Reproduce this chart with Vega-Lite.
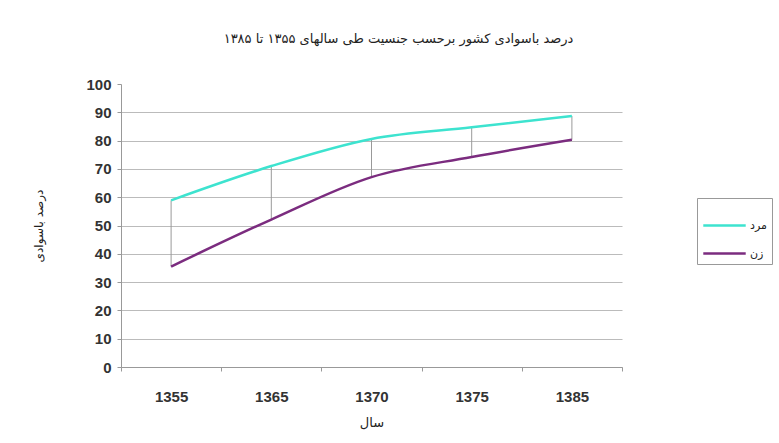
{
  "$schema": "https://vega.github.io/schema/vega-lite/v6.json",
  "width": 501,
  "height": 283,
  "autosize": {"type": "none"},
  "padding": {"left": 121, "top": 84, "right": 158, "bottom": 76},
  "background": "white",
  "config": {
    "view": {"stroke": null},
    "font": "DejaVu Sans",
    "axisY": {
      "titleFont": "DejaVu Sans",
      "titleFontSize": 12,
      "titleFontWeight": "normal",
      "titleColor": "#222",
      "titlePadding": 40,
      "values": [0, 10, 20, 30, 40, 50, 60, 70, 80, 90, 100],
      "labelOverlap": false,
      "labelFont": "Liberation Sans",
      "labelFontSize": 15,
      "labelFontWeight": "bold",
      "labelColor": "#333",
      "labelPadding": 6,
      "tickColor": "#999",
      "tickSize": 4,
      "domainColor": "#999",
      "gridColor": "#bbb",
      "gridWidth": 1
    },
    "axisX": {
      "titleFont": "DejaVu Sans",
      "titleFontSize": 13,
      "titleFontWeight": "normal",
      "titleColor": "#222",
      "titlePadding": 12,
      "labelAngle": 0,
      "labelAlign": "center",
      "labelFont": "Liberation Sans",
      "labelFontSize": 15,
      "labelFontWeight": "bold",
      "labelColor": "#333",
      "labelPadding": 18,
      "tickBand": "extent",
      "tickColor": "#999",
      "tickSize": 4,
      "domainColor": "#999",
      "grid": false
    }
  },
  "title": {
    "text": "درصد باسوادی کشور برحسب جنسیت طی سالهای ۱۳۵۵ تا ۱۳۸۵",
    "font": "DejaVu Sans",
    "fontSize": 13,
    "fontWeight": "normal",
    "color": "#222",
    "anchor": "middle",
    "dx": 27,
    "offset": 31
  },
  "data": {
    "values": [
      {"year": "1355", "sex": "مرد", "value": 58.9},
      {"year": "1365", "sex": "مرد", "value": 71.0},
      {"year": "1370", "sex": "مرد", "value": 80.6},
      {"year": "1375", "sex": "مرد", "value": 84.7},
      {"year": "1385", "sex": "مرد", "value": 88.7},
      {"year": "1355", "sex": "زن", "value": 35.5},
      {"year": "1365", "sex": "زن", "value": 52.1},
      {"year": "1370", "sex": "زن", "value": 67.1},
      {"year": "1375", "sex": "زن", "value": 74.2},
      {"year": "1385", "sex": "زن", "value": 80.3}
    ]
  },
  "encoding": {
    "x": {
      "field": "year",
      "type": "nominal",
      "scale": {"type": "band", "paddingInner": 0, "paddingOuter": 0},
      "axis": {"title": "سال"}
    }
  },
  "layer": [
    {
      "mark": {"type": "rule", "color": "#999", "strokeWidth": 1},
      "encoding": {
        "y": {
          "aggregate": "min",
          "field": "value",
          "type": "quantitative",
          "scale": {"domain": [0, 100]},
          "axis": {
            "title": "درصد باسوادی",
            "gridOpacity": {"condition": {"test": "datum.value === 100", "value": 0}, "value": 1}
          }
        },
        "y2": {"aggregate": "max", "field": "value"}
      }
    },
    {
      "mark": {"type": "line", "interpolate": "monotone", "strokeWidth": 2.5},
      "encoding": {
        "y": {
          "field": "value",
          "type": "quantitative",
          "scale": {"domain": [0, 100]},
          "axis": {
            "title": "درصد باسوادی",
            "gridOpacity": {"condition": {"test": "datum.value === 100", "value": 0}, "value": 1}
          }
        },
        "color": {
          "field": "sex",
          "type": "nominal",
          "scale": {"domain": ["مرد", "زن"], "range": ["#3de3cf", "#7b2c7f"]},
          "legend": {
            "title": null,
            "orient": "none",
            "legendX": 576,
            "legendY": 114,
            "strokeColor": "#999",
            "padding": 5,
            "symbolType": "stroke",
            "symbolSize": 1800,
            "symbolStrokeWidth": 2.5,
            "labelFont": "DejaVu Sans",
            "labelFontSize": 11,
            "labelColor": "#222",
            "labelOffset": 3,
            "rowPadding": -18
          }
        }
      }
    }
  ]
}
